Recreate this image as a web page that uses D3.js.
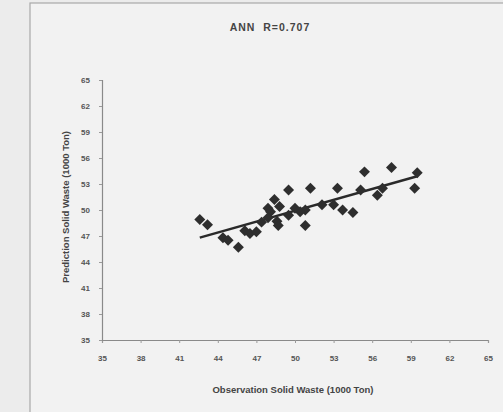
<!DOCTYPE html>
<html>
<head>
<meta charset="utf-8">
<script src="https://cdn.jsdelivr.net/npm/d3@7"></script>
<style>
  html, body { margin: 0; padding: 0; background: #ececec; }
  svg { display: block; font-family: Arial, "Liberation Sans", sans-serif; }
</style>
</head>
<body>
<svg id="chart" width="503" height="412"></svg>
<script>
// Observed vs. predicted solid waste (1000 Ton), ANN model
const observed = [42.6, 43.2, 44.4, 44.8, 45.6, 46.1, 46.5, 47.0, 47.9, 48.1,
                  48.4, 48.8, 47.9, 48.6, 48.7, 49.5, 49.5, 50.8, 50.8, 51.2,
                  50.4, 52.1, 53.0, 53.3, 53.7, 54.5, 55.1, 55.4, 56.4, 56.8,
                  57.5, 59.3, 59.5, 47.4, 50.0];
const predicted = [48.9, 48.3, 46.8, 46.5, 45.7, 47.6, 47.3, 47.5, 50.2, 49.8,
                   51.2, 50.4, 49.1, 48.7, 48.2, 49.4, 52.3, 50.0, 48.2, 52.5,
                   49.8, 50.6, 50.6, 52.5, 50.0, 49.7, 52.3, 54.4, 51.7, 52.5,
                   54.9, 52.5, 54.3, 48.6, 50.2];
const tickValues = [35, 38, 41, 44, 47, 50, 53, 56, 59, 62, 65];
const titleText = "ANN  R=0.707";
const xTitle = "Observation Solid Waste (1000 Ton)";
const yTitle = "Prediction Solid Waste (1000 Ton)";

const svg = d3.select("#chart");

// chart area frame
svg.append("rect").attr("x", 30).attr("y", 3).attr("width", 480).attr("height", 420)
  .attr("fill", "#f2f2f2").attr("stroke", "#a8a8a8").attr("stroke-width", 1.2);

const x = d3.scaleLinear().domain([35, 65]).range([102, 488]);
const y = d3.scaleLinear().domain([35, 65]).range([340, 80]);

// axes
const xAxis = d3.axisBottom(x).tickValues(tickValues).tickSize(3).tickPadding(12);
const yAxis = d3.axisLeft(y).tickValues(tickValues).tickSize(3).tickPadding(9);

const gx = svg.append("g").attr("transform", `translate(0,${y(35)})`).call(xAxis);
const gy = svg.append("g").attr("transform", `translate(${x(35)},0)`).call(yAxis);
[gx, gy].forEach(g => {
  g.select(".domain").attr("stroke", "#8a8a8a").attr("stroke-width", 1.2);
  g.selectAll(".tick line").attr("stroke", "#9a9a9a");
  g.selectAll(".tick text").attr("fill", "#555").attr("font-size", 8)
    .attr("font-weight", "bold").attr("font-family", "Arial, 'Liberation Sans', sans-serif");
});

// least-squares trend line over the observed range
const mx = d3.mean(observed), my = d3.mean(predicted);
let sxy = 0, sxx = 0;
observed.forEach((o, i) => { sxy += (o - mx) * (predicted[i] - my); sxx += (o - mx) ** 2; });
const slope = sxy / sxx, intercept = my - slope * mx;
const [xmin, xmax] = d3.extent(observed);
svg.append("line")
  .attr("x1", x(xmin)).attr("y1", y(intercept + slope * xmin))
  .attr("x2", x(xmax)).attr("y2", y(intercept + slope * xmax))
  .attr("stroke", "#2a2a2a").attr("stroke-width", 2.4);

// data points (diamonds)
svg.append("g").selectAll("path")
  .data(observed.map((o, i) => [o, predicted[i]]))
  .join("path")
  .attr("d", d3.symbol(d3.symbolSquare, 60))
  .attr("transform", d => `translate(${x(d[0])},${y(d[1])}) rotate(45)`)
  .attr("fill", "#2e2e2e");

// titles
svg.append("text").attr("x", 270).attr("y", 31).attr("text-anchor", "middle")
  .attr("font-size", 10.5).attr("font-weight", "bold").attr("fill", "#444")
  .attr("letter-spacing", 1).style("white-space", "pre").text(titleText);

svg.append("text").attr("x", 293).attr("y", 393).attr("text-anchor", "middle")
  .attr("font-size", 9.5).attr("font-weight", "bold").attr("fill", "#444").text(xTitle);

svg.append("text").attr("transform", `translate(69,207) rotate(-90)`)
  .attr("text-anchor", "middle")
  .attr("font-size", 9.5).attr("font-weight", "bold").attr("fill", "#444").text(yTitle);
</script>
</body>
</html>
